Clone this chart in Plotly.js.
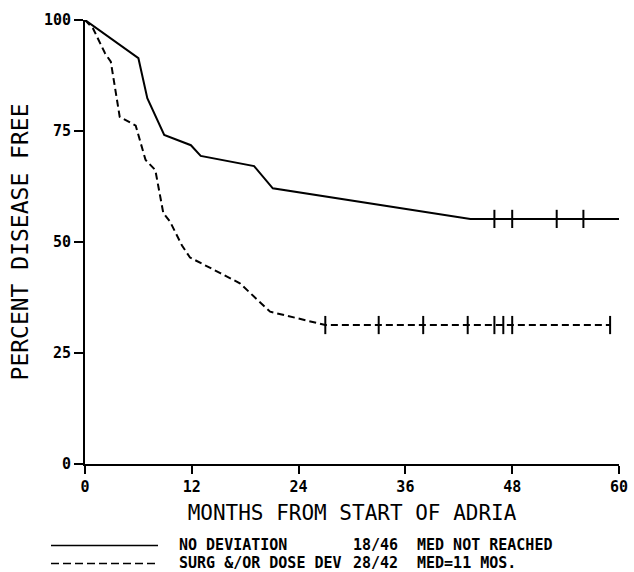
<!DOCTYPE html>
<html>
<head>
<meta charset="utf-8">
<script src="https://cdn.plot.ly/plotly-3.0.1.min.js"></script>
<style>html,body{margin:0;padding:0;background:#fff;}#chart{width:634px;height:572px;}</style>
</head>
<body>
<div id="chart"></div>
<script>
// Group 1: no deviation (solid)
const noDevMonths = [0, 6.0, 7.0, 8.9, 11.9, 13.0, 19.0, 21.1, 43.3, 60];
const noDevPct    = [100, 91.4, 82.4, 74.1, 71.8, 69.4, 67.1, 62.1, 55.2, 55.2];
const noDevCensorMonths = [46, 48, 53, 56];
const noDevCensorPct    = [55.2, 55.2, 55.2, 55.2];

// Group 2: surgery and/or dose deviation (dashed)
const devMonths = [0, 0.9, 2.25, 2.9, 3.9, 5.7, 6.8, 7.9, 8.8, 9.55, 10.9, 11.8, 15.2, 17.4, 20.8, 26.0, 27.0, 59];
const devPct    = [100, 98.1, 92.5, 90.6, 78.2, 76.2, 68.5, 66.2, 56.5, 54.6, 49.2, 46.5, 43.0, 40.7, 34.3, 31.7, 31.3, 31.3];
const devCensorMonths = [27, 33, 38, 43, 46, 47, 48, 59];
const devCensorPct    = [31.3, 31.3, 31.3, 31.3, 31.3, 31.3, 31.3, 31.3];

const xTickVals = [0, 12, 24, 36, 48, 60];
const xTickText = ['0', '12', '24', '36', '48', '60'];
const yTickVals = [0, 25, 50, 75, 100];
const yTickText = ['0', '25', '50', '75', '100'];

const legendNames  = ['NO DEVIATION', 'SURG &/OR DOSE DEV'];
const legendCounts = ['18/46', '28/42'];
const legendMeds   = ['MED NOT REACHED', 'MED=11 MOS.'];
const legendDashes = ['solid', '8px,4px'];

const mono = '"DejaVu Sans Mono", "Liberation Mono", monospace';

const traces = [
  {x: noDevMonths, y: noDevPct, mode: 'lines', name: 'NO DEVIATION',
   line: {color: '#000', width: 2}, showlegend: false},
  {x: noDevCensorMonths, y: noDevCensorPct, mode: 'markers', showlegend: false,
   marker: {symbol: 'line-ns-open', size: 13, color: '#000', line: {color: '#000', width: 2}}},
  {x: devMonths, y: devPct, mode: 'lines', name: 'SURG &/OR DOSE DEV',
   line: {color: '#000', width: 2, dash: '7px,4px'}, showlegend: false},
  {x: devCensorMonths, y: devCensorPct, mode: 'markers', showlegend: false,
   marker: {symbol: 'line-ns-open', size: 13, color: '#000', line: {color: '#000', width: 2}}}
];

// layout helpers: convert page pixels to paper coordinates (plot area x 85..619, y 20..464)
const px = v => (v - 85) / 534;
const py = v => (464 - v) / 444;
const rowY = [544.5, 562.5];
const colX = [178, 352, 416];

const shapes = [];
const annotations = [];
legendNames.forEach((nm, i) => {
  shapes.push({type: 'line', xref: 'paper', yref: 'paper',
    x0: px(51), x1: px(158), y0: py(rowY[i] + 1), y1: py(rowY[i] + 1),
    line: {color: '#000', width: 1.5, dash: legendDashes[i]}});
  [nm, legendCounts[i], legendMeds[i]].forEach((t, j) => {
    annotations.push({xref: 'paper', yref: 'paper', x: px(colX[j]), y: py(rowY[i]),
      xanchor: 'left', yanchor: 'middle', showarrow: false, text: t, borderpad: 0,
      font: {family: mono, size: 15, color: '#000', weight: 'bold'}});
  });
});

const layout = {
  width: 634, height: 572,
  margin: {l: 85, r: 15, t: 20, b: 108},
  paper_bgcolor: '#fff', plot_bgcolor: '#fff',
  showlegend: false,
  xaxis: {
    range: [0, 60], tickvals: xTickVals, ticktext: xTickText,
    showgrid: false, zeroline: false, showline: true, linecolor: '#000', linewidth: 2,
    ticks: 'outside', ticklen: 8, tickwidth: 2, tickcolor: '#000',
    tickfont: {family: mono, size: 15, color: '#000', weight: 'bold'},
    title: {text: 'MONTHS FROM START OF ADRIA', font: {family: mono, size: 21, color: '#000'}, standoff: 10},
    automargin: false, fixedrange: true
  },
  yaxis: {
    range: [0, 100], tickvals: yTickVals, ticktext: yTickText,
    showgrid: false, zeroline: false, showline: true, linecolor: '#000', linewidth: 2,
    ticks: 'outside', ticklen: 9, tickwidth: 2, tickcolor: '#000',
    tickfont: {family: mono, size: 15, color: '#000', weight: 'bold'},
    title: {text: 'PERCENT DISEASE FREE', font: {family: mono, size: 23, color: '#000'}, standoff: 9},
    automargin: false, fixedrange: true
  },
  shapes: shapes,
  annotations: annotations
};

Plotly.newPlot('chart', traces, layout, {displayModeBar: false, staticPlot: true});
</script>
</body>
</html>
